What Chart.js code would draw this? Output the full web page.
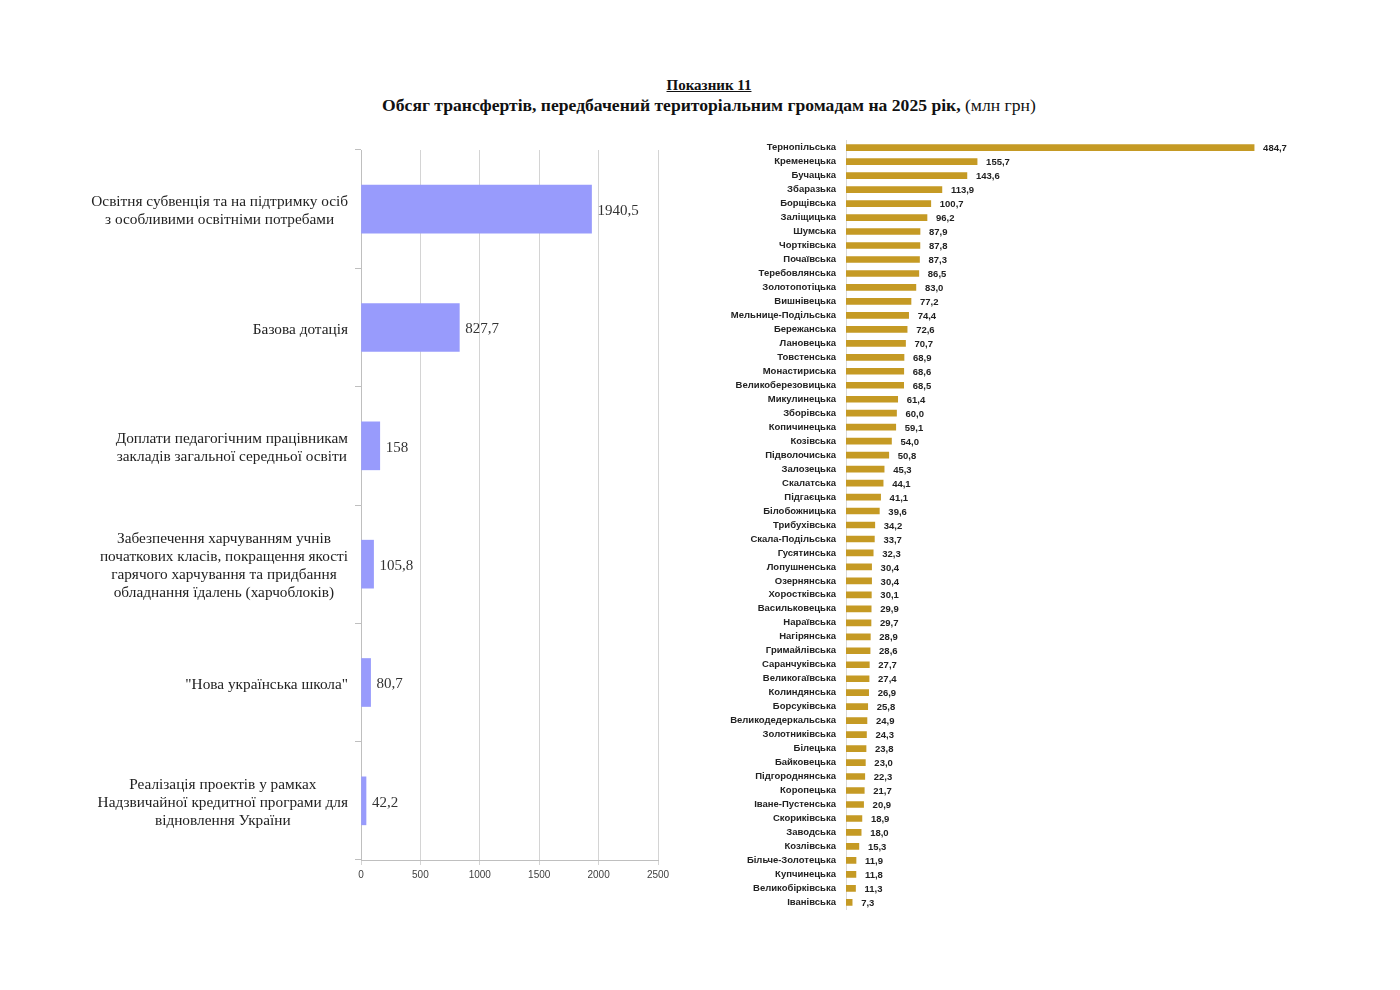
<!DOCTYPE html>
<html lang="uk">
<head>
<meta charset="utf-8">
<title>Показник 11</title>
<script src="https://cdn.jsdelivr.net/npm/chart.js@4.4.1/dist/chart.umd.min.js"></script>
<style>
  body { margin: 0; background: #fff; width: 1400px; height: 990px; position: relative; overflow: hidden; }
  #title { position: absolute; left: 0; top: 76px; width: 1418px; text-align: center;
           font-family: "Liberation Serif", serif; color: #111; }
  #title .t1 { font-size: 15px; font-weight: bold; text-decoration: underline; line-height: 19px; }
  #title .t2 { font-size: 17.6px; font-weight: bold; line-height: 21px; }
  #title .t2 span { font-weight: normal; }
  #leftChart { position: absolute; left: 0; top: 140px; }
  #rightChart { position: absolute; left: 700px; top: 125px; }
</style>
</head>
<body>
<div id="title">
  <div class="t1">Показник 11</div>
  <div class="t2">Обсяг трансфертів, передбачений територіальним громадам на 2025 рік, <span>(млн грн)</span></div>
</div>
<canvas id="leftChart" width="700" height="760"></canvas>
<canvas id="rightChart" width="700" height="800"></canvas>
<script>
// Ліва діаграма: види трансфертів
const transferLabels = [
    ["Освітня субвенція та на підтримку осіб", "з особливими освітніми потребами"],
    ["Базова дотація"],
    ["Доплати педагогічним працівникам", "закладів загальної середньої освіти"],
    ["Забезпечення харчуванням учнів", "початкових класів, покращення якості", "гарячого харчування та придбання", "обладнання їдалень (харчоблоків)"],
    ["\"Нова українська школа\""],
    ["Реалізація проектів у рамках", "Надзвичайної кредитної програми для", "відновлення України"]
];
const transferValues = [1940.5, 827.7, 158, 105.8, 80.7, 42.2];
const transferTicks = [0, 500, 1000, 1500, 2000, 2500];

// Права діаграма: громади
const communities = [
    "Тернопільська", "Кременецька", "Бучацька", "Збаразька", "Борщівська", "Заліщицька",
    "Шумська", "Чортківська", "Почаївська", "Теребовлянська", "Золотопотіцька", "Вишнівецька",
    "Мельнице-Подільська", "Бережанська", "Лановецька", "Товстенська", "Монастириська",
    "Великоберезовицька", "Микулинецька", "Зборівська", "Копичинецька", "Козівська",
    "Підволочиська", "Залозецька", "Скалатська", "Підгаєцька", "Білобожницька", "Трибухівська",
    "Скала-Подільська", "Гусятинська", "Лопушненська", "Озернянська", "Хоростківська",
    "Васильковецька", "Нараївська", "Нагірянська", "Гримайлівська", "Саранчуківська",
    "Великогаївська", "Колиндянська", "Борсуківська", "Великодедеркальська", "Золотниківська",
    "Білецька", "Байковецька", "Підгороднянська", "Коропецька", "Іване-Пустенська",
    "Скориківська", "Заводська", "Козлівська", "Більче-Золотецька", "Купчинецька",
    "Великобірківська", "Іванівська"
];
const communityValues = [
    484.7, 155.7, 143.6, 113.9, 100.7, 96.2,
    87.9, 87.8, 87.3, 86.5, 83.0, 77.2,
    74.4, 72.6, 70.7, 68.9, 68.6,
    68.5, 61.4, 60.0, 59.1, 54.0,
    50.8, 45.3, 44.1, 41.1, 39.6, 34.2,
    33.7, 32.3, 30.4, 30.4, 30.1,
    29.9, 29.7, 28.9, 28.6, 27.7,
    27.4, 26.9, 25.8, 24.9, 24.3,
    23.8, 23.0, 22.3, 21.7, 20.9,
    18.9, 18.0, 15.3, 11.9, 11.8,
    11.3, 7.3
];

const serif = "'Liberation Serif', 'Times New Roman', serif";
const sans = "'Liberation Sans', Arial, sans-serif";

// Підписи значень праворуч від стовпців
const valueLabels = {
    id: "valueLabels",
    afterDatasetsDraw(chart, args, opts) {
        const ctx = chart.ctx;
        const meta = chart.getDatasetMeta(0);
        ctx.save();
        ctx.font = opts.font;
        ctx.fillStyle = opts.color;
        ctx.textAlign = "left";
        ctx.textBaseline = "middle";
        meta.data.forEach((bar, i) => {
            const v = chart.data.datasets[0].data[i];
            ctx.fillText(opts.format(v), bar.x + opts.offset, bar.y + (opts.dy || 0));
        });
        ctx.restore();
    }
};

// Багаторядкові підписи категорій, вирівняні по центру блоку
const categoryLabels = {
    id: "categoryLabels",
    afterDraw(chart, args, opts) {
        const ctx = chart.ctx;
        const yScale = chart.scales.y;
        ctx.save();
        ctx.font = opts.font;
        ctx.fillStyle = opts.color;
        ctx.textAlign = "center";
        ctx.textBaseline = "middle";
        chart.data.labels.forEach((lines, i) => {
            const w = Math.max(...lines.map(l => ctx.measureText(l).width));
            const cx = chart.chartArea.left - opts.gap - w / 2;
            const cy = yScale.getPixelForValue(i) + opts.dy;
            lines.forEach((line, j) => {
                ctx.fillText(line, cx, cy + (j - (lines.length - 1) / 2) * opts.lineHeight);
            });
        });
        ctx.restore();
    }
};

new Chart(document.getElementById("leftChart"), {
    type: "bar",
    data: {
        labels: transferLabels,
        datasets: [{
            data: transferValues,
            backgroundColor: "#989bfc",
            barThickness: 48
        }]
    },
    options: {
        indexAxis: "y",
        responsive: false,
        animation: false,
        layout: { padding: { top: 10, right: 42, left: 0, bottom: 0 } },
        scales: {
            x: {
                min: 0,
                max: 2500,
                afterBuildTicks: (scale) => { scale.ticks = transferTicks.map(v => ({ value: v })); },
                afterFit: (scale) => { scale.height = 40; },
                grid: { color: "#d4d4d4", tickLength: 5 },
                border: { color: "#bfbfbf" },
                ticks: {
                    color: "#404040",
                    font: { family: sans, size: 10 },
                    padding: 4,
                    callback: (v) => String(v)
                }
            },
            y: {
                afterFit: (scale) => { scale.width = 361; },
                grid: { offset: true, drawOnChartArea: false, tickLength: 6, color: "#bfbfbf" },
                border: { color: "#bfbfbf" },
                ticks: { display: false }
            }
        },
        plugins: {
            legend: { display: false },
            tooltip: { enabled: false },
            valueLabels: {
                font: "15px " + serif,
                color: "#333",
                offset: 6,
                dy: 2,
                format: v => String(v).replace(".", ",")
            },
            categoryLabels: {
                font: "15.3px " + serif,
                color: "#222",
                gap: 13,
                dy: 2,
                lineHeight: 17.8
            }
        }
    },
    plugins: [valueLabels, categoryLabels]
});

new Chart(document.getElementById("rightChart"), {
    type: "bar",
    data: {
        labels: communities,
        datasets: [{
            data: communityValues,
            backgroundColor: "#c59a24",
            barThickness: 6
        }]
    },
    options: {
        indexAxis: "y",
        responsive: false,
        animation: false,
        layout: { padding: { top: 0, right: 133, left: 0, bottom: 0 } },
        scales: {
            x: { display: false, min: 0, max: 500 },
            y: {
                afterFit: (scale) => { scale.width = 146; },
                grid: { display: false, drawTicks: false },
                border: { display: true, color: "#d9d9d9" },
                ticks: {
                    autoSkip: false,
                    padding: 10,
                    color: "#222",
                    font: { family: sans, size: 9.5, weight: "bold" }
                }
            }
        },
        plugins: {
            legend: { display: false },
            tooltip: { enabled: false },
            valueLabels: {
                font: "bold 9.5px " + sans,
                color: "#222",
                offset: 9,
                dy: 1,
                format: v => v.toFixed(1).replace(".", ",")
            }
        }
    },
    plugins: [valueLabels]
});
</script>
</body>
</html>
